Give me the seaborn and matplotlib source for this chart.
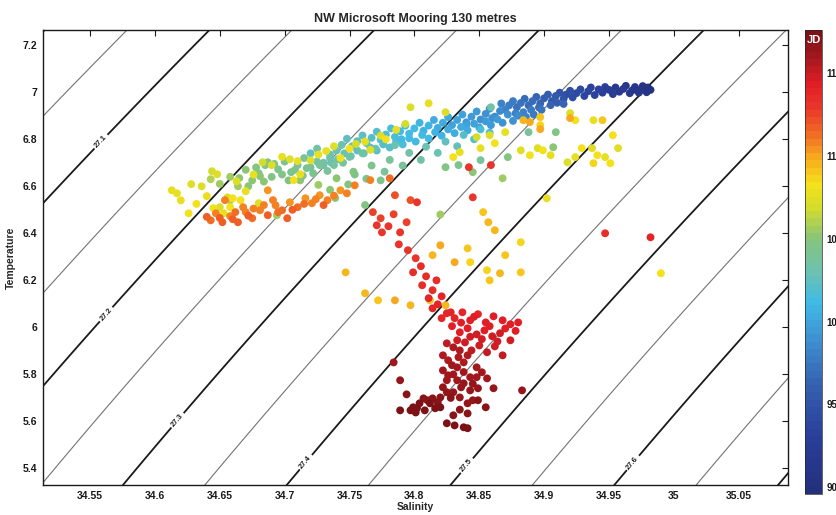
import numpy as np
import pandas as pd
import seaborn as sns
import matplotlib
matplotlib.use('Agg')
import matplotlib.pyplot as plt
from matplotlib.colors import LinearSegmentedColormap, Normalize
from matplotlib.cm import ScalarMappable

# (salinity, temperature, julian day), grouped by water type
tip_pts = [
    (34.982, 7.010, 90.1), (34.980, 7.020, 90.3), (34.979, 7.000, 90.5), (34.976, 7.026, 90.7),
    (34.975, 7.012, 90.8), (34.973, 6.998, 91.0), (34.970, 7.022, 91.2), (34.968, 7.008, 91.3),
    (34.966, 6.996, 91.5), (34.963, 7.027, 91.6), (34.961, 7.014, 91.8), (34.958, 7.002, 92.0),
    (34.955, 7.020, 92.2), (34.953, 6.992, 92.3), (34.950, 7.010, 92.5), (34.947, 7.022, 92.7),
    (34.945, 6.998, 92.9), (34.942, 7.012, 93.1), (34.939, 6.988, 93.3), (34.936, 7.020, 93.4),
    (34.934, 7.004, 93.6), (34.931, 6.984, 93.8), (34.928, 7.012, 94.0), (34.925, 6.996, 94.2),
    (34.922, 6.978, 94.4), (34.920, 7.006, 94.5), (34.917, 6.990, 94.7),
]
blue_pts = [
    (34.915, 6.972, 95.0), (34.912, 6.998, 95.2), (34.909, 6.984, 95.4), (34.906, 6.962, 95.6),
    (34.903, 6.990, 95.8), (34.900, 6.974, 96.0), (34.897, 6.952, 96.2), (34.894, 6.980, 96.4),
    (34.891, 6.962, 96.6), (34.888, 6.944, 96.8), (34.885, 6.972, 97.0), (34.882, 6.954, 97.2),
    (34.879, 6.936, 97.4), (34.876, 6.962, 97.6), (34.873, 6.944, 97.8), (34.870, 6.926, 98.0),
    (34.867, 6.952, 98.2), (34.896, 6.935, 97.0), (34.890, 6.925, 97.5), (34.884, 6.915, 98.0),
    (34.878, 6.910, 98.3), (34.905, 6.945, 96.5), (34.898, 6.925, 97.2), (34.892, 6.905, 97.8),
    (34.886, 6.895, 98.2), (34.910, 6.955, 96.0), (34.915, 6.950, 96.3),
]
cyan_pts = [
    (34.866, 6.920, 98.5), (34.862, 6.896, 98.7), (34.858, 6.930, 98.8), (34.855, 6.908, 99.0),
    (34.851, 6.884, 99.1), (34.848, 6.918, 99.3), (34.844, 6.896, 99.4), (34.840, 6.872, 99.6),
    (34.837, 6.905, 99.7), (34.833, 6.882, 99.9), (34.829, 6.860, 100.0), (34.826, 6.894, 100.1),
    (34.822, 6.870, 100.3), (34.818, 6.848, 100.4), (34.815, 6.882, 100.5), (34.811, 6.858, 100.7),
    (34.807, 6.836, 100.8), (34.804, 6.870, 100.9), (34.800, 6.846, 101.0), (34.796, 6.824, 101.2),
    (34.793, 6.858, 101.3), (34.789, 6.834, 101.4), (34.785, 6.810, 101.5), (34.782, 6.846, 101.6),
    (34.778, 6.820, 101.8), (34.774, 6.798, 101.9), (34.771, 6.832, 102.0), (34.767, 6.806, 102.1),
    (34.763, 6.784, 102.3), (34.760, 6.816, 102.4), (34.756, 6.792, 102.5), (34.752, 6.770, 102.6),
    (34.748, 6.802, 102.7), (34.744, 6.776, 102.8), (34.740, 6.752, 102.9), (34.720, 6.740, 102.5),
    (34.735, 6.720, 103.0), (34.790, 6.800, 101.0), (34.840, 6.860, 100.0), (34.860, 6.890, 99.0),
    (34.880, 6.900, 98.6), (34.876, 6.878, 98.9), (34.872, 6.905, 99.0), (34.868, 6.870, 99.2),
    (34.864, 6.885, 99.3), (34.859, 6.860, 99.5), (34.855, 6.876, 99.6), (34.850, 6.850, 99.8),
    (34.846, 6.866, 99.9), (34.841, 6.838, 100.1), (34.836, 6.852, 100.2), (34.831, 6.826, 100.4),
    (34.826, 6.842, 100.5), (34.821, 6.815, 100.7), (34.816, 6.830, 100.8), (34.811, 6.803, 101.0),
    (34.806, 6.818, 101.1), (34.801, 6.790, 101.3), (34.796, 6.804, 101.4), (34.791, 6.778, 101.6),
    (34.786, 6.792, 101.7), (34.781, 6.765, 101.9), (34.776, 6.778, 102.0), (34.771, 6.752, 102.2),
    (34.766, 6.765, 102.3), (34.761, 6.740, 102.5), (34.756, 6.752, 102.6), (34.751, 6.728, 102.8),
    (34.746, 6.740, 102.9), (34.741, 6.715, 103.0), (34.736, 6.700, 103.1), (34.730, 6.690, 103.2),
    (34.725, 6.705, 103.3), (34.858, 6.828, 101.5), (34.851, 6.842, 101.8), (34.846, 6.800, 102.0),
    (34.838, 6.818, 102.2), (34.833, 6.770, 102.4), (34.824, 6.790, 102.6), (34.818, 6.742, 102.8),
    (34.809, 6.768, 103.0), (34.805, 6.712, 103.2), (34.796, 6.742, 103.4), (34.791, 6.688, 103.6),
    (34.781, 6.712, 103.8), (34.777, 6.662, 104.0), (34.767, 6.688, 104.2), (34.763, 6.632, 104.4),
    (34.753, 6.662, 104.6), (34.749, 6.608, 104.8), (34.740, 6.634, 105.0), (34.735, 6.585, 105.2),
    (34.726, 6.606, 105.4),
]
green_pts = [
    (34.735, 6.735, 103.2), (34.730, 6.700, 103.4), (34.725, 6.760, 103.5), (34.720, 6.680, 103.7),
    (34.715, 6.720, 103.8), (34.710, 6.690, 104.0), (34.705, 6.660, 104.1), (34.700, 6.705, 104.3),
    (34.695, 6.672, 104.4), (34.690, 6.640, 104.6), (34.685, 6.690, 104.7), (34.680, 6.655, 104.9),
    (34.675, 6.625, 105.0), (34.670, 6.670, 105.2), (34.664, 6.600, 105.4), (34.658, 6.640, 105.5),
    (34.650, 6.610, 105.7), (34.770, 6.760, 103.1), (34.760, 6.740, 103.3), (34.750, 6.725, 103.5),
    (34.785, 6.775, 103.0), (34.687, 6.702, 104.5), (34.681, 6.643, 105.0), (34.694, 6.477, 105.5),
    (34.717, 6.677, 104.2), (34.824, 6.681, 104.8), (34.834, 6.690, 104.4), (34.845, 6.660, 105.2),
    (34.851, 6.711, 104.0), (34.868, 6.634, 105.6), (34.872, 6.724, 104.6), (34.888, 6.830, 103.6),
    (34.909, 6.830, 104.9), (34.907, 6.766, 105.3), (34.859, 6.936, 103.4), (34.658, 6.540, 105.8),
    (34.739, 6.550, 105.1), (34.762, 6.520, 104.7), (34.820, 6.480, 105.4), (34.754, 6.650, 104.3),
    (34.712, 6.625, 105.0), (34.643, 6.630, 105.9), (34.774, 6.625, 104.1), (34.665, 6.635, 105.1),
    (34.672, 6.600, 105.3), (34.678, 6.680, 104.8), (34.684, 6.620, 105.0), (34.692, 6.695, 104.5),
    (34.698, 6.650, 104.7), (34.703, 6.625, 104.9), (34.708, 6.670, 104.4), (34.714, 6.645, 104.6),
    (34.722, 6.655, 104.2), (34.727, 6.690, 104.0), (34.733, 6.665, 103.9), (34.738, 6.690, 103.8),
    (34.745, 6.700, 103.6),
]
yellow_pts = [
    (34.613, 6.583, 107.6), (34.617, 6.570, 107.8), (34.628, 6.609, 107.2), (34.644, 6.664, 107.0),
    (34.648, 6.651, 107.4), (34.663, 6.621, 107.3), (34.670, 6.579, 107.9), (34.626, 6.485, 108.0),
    (34.640, 6.558, 107.7), (34.645, 6.507, 108.2), (34.650, 6.511, 107.5), (34.658, 6.511, 108.4),
    (34.653, 6.485, 107.9), (34.656, 6.553, 107.1), (34.660, 6.549, 108.1), (34.683, 6.702, 106.9),
    (34.704, 6.715, 107.2), (34.710, 6.707, 107.6), (34.712, 6.651, 107.8), (34.666, 6.541, 108.3),
    (34.680, 6.528, 107.4), (34.707, 6.626, 108.0), (34.824, 6.915, 107.5), (34.870, 6.830, 107.8),
    (34.897, 6.860, 108.6), (34.920, 6.911, 107.3), (34.924, 6.881, 108.2), (34.938, 6.881, 107.7),
    (34.945, 6.881, 108.9), (34.882, 6.753, 107.4), (34.889, 6.732, 108.0), (34.895, 6.762, 107.2),
    (34.899, 6.753, 108.4), (34.905, 6.732, 107.6), (34.848, 6.809, 106.8), (34.851, 6.762, 107.9),
    (34.858, 6.817, 107.1), (34.862, 6.783, 108.3), (34.835, 6.745, 107.6), (34.830, 6.724, 108.1),
    (34.918, 6.702, 107.5), (34.924, 6.724, 107.9), (34.929, 6.762, 108.2), (34.937, 6.762, 107.3),
    (34.941, 6.732, 108.0), (34.947, 6.724, 107.7), (34.938, 6.698, 108.5), (34.957, 6.762, 107.4),
    (34.953, 6.817, 108.1), (34.897, 6.894, 109.2), (34.884, 6.881, 109.4), (34.951, 6.698, 108.3),
    (34.902, 6.549, 107.9), (34.990, 6.230, 108.0), (34.797, 6.936, 107.1), (34.811, 6.953, 107.6),
    (34.720, 6.710, 107.3), (34.732, 6.750, 107.8), (34.743, 6.720, 108.2), (34.755, 6.780, 107.0),
    (34.766, 6.755, 107.5), (34.778, 6.800, 108.4), (34.786, 6.840, 107.7), (34.793, 6.865, 106.9),
    (34.690, 6.690, 107.5), (34.698, 6.725, 107.9), (34.726, 6.735, 107.6), (34.738, 6.770, 107.3),
    (34.750, 6.760, 108.0), (34.762, 6.790, 107.8), (34.774, 6.815, 107.4), (34.676, 6.650, 107.7),
    (34.636, 6.600, 107.5), (34.620, 6.540, 107.9), (34.632, 6.525, 108.3),
]
gold_pts = [
    (34.747, 6.234, 109.3), (34.762, 6.145, 109.6), (34.772, 6.115, 109.1), (34.785, 6.115, 109.8),
    (34.797, 6.094, 109.4), (34.812, 6.115, 109.0), (34.824, 6.094, 109.7), (34.858, 6.200, 109.2),
    (34.866, 6.230, 109.5), (34.856, 6.243, 108.8), (34.870, 6.307, 109.0), (34.882, 6.362, 108.6),
    (34.862, 6.413, 109.3), (34.853, 6.490, 108.9), (34.857, 6.447, 109.6), (34.841, 6.336, 109.1),
    (34.831, 6.277, 109.8), (34.843, 6.277, 108.7), (34.814, 6.307, 109.4), (34.820, 6.349, 109.9),
    (34.882, 6.234, 109.2),
]
orange_pts = [
    (34.643, 6.455, 111.4), (34.647, 6.485, 111.0), (34.652, 6.447, 111.6), (34.658, 6.473, 110.8),
    (34.664, 6.447, 111.8), (34.670, 6.490, 110.6), (34.675, 6.464, 111.3), (34.681, 6.498, 110.9),
    (34.687, 6.477, 111.5), (34.693, 6.519, 110.7), (34.698, 6.498, 111.2), (34.704, 6.532, 110.5),
    (34.710, 6.511, 111.1), (34.716, 6.549, 110.4), (34.721, 6.528, 110.9), (34.727, 6.562, 110.3),
    (34.733, 6.541, 110.8), (34.687, 6.583, 110.5), (34.654, 6.541, 110.7), (34.668, 6.511, 111.0),
    (34.702, 6.464, 111.7), (34.691, 6.541, 110.6), (34.743, 6.583, 110.4), (34.754, 6.604, 110.6),
    (34.766, 6.626, 110.9), (34.781, 6.634, 111.2), (34.785, 6.562, 112.0), (34.797, 6.541, 112.2),
    (34.889, 6.873, 109.8), (34.897, 6.843, 110.0), (34.920, 6.890, 109.9), (34.662, 6.490, 111.2),
    (34.676, 6.505, 110.8), (34.684, 6.520, 111.0), (34.695, 6.490, 111.4), (34.706, 6.500, 111.6),
    (34.715, 6.525, 111.3), (34.724, 6.545, 110.9), (34.730, 6.520, 111.5), (34.738, 6.560, 110.7),
    (34.748, 6.570, 110.6), (34.660, 6.460, 111.7), (34.672, 6.475, 111.9), (34.640, 6.470, 111.8),
    (34.650, 6.465, 111.5),
]
red_pts = [
    (34.768, 6.490, 112.5), (34.774, 6.464, 112.6), (34.780, 6.430, 112.8), (34.784, 6.481, 112.6),
    (34.789, 6.404, 112.9), (34.794, 6.447, 112.7), (34.788, 6.353, 113.0), (34.795, 6.328, 113.1),
    (34.775, 6.404, 112.9), (34.771, 6.434, 112.8), (34.801, 6.294, 113.2), (34.805, 6.260, 113.3),
    (34.799, 6.234, 113.4), (34.809, 6.217, 113.4), (34.806, 6.179, 113.5), (34.814, 6.158, 113.6),
    (34.811, 6.124, 113.7), (34.818, 6.098, 113.8), (34.821, 6.132, 113.7), (34.817, 6.200, 113.5),
    (34.825, 6.060, 113.9), (34.831, 6.039, 114.0), (34.837, 6.064, 113.9), (34.843, 6.030, 114.1),
    (34.849, 6.056, 114.0), (34.855, 6.021, 114.2), (34.861, 6.047, 114.1), (34.868, 6.030, 114.2),
    (34.874, 6.013, 114.3), (34.880, 6.021, 114.2), (34.829, 6.005, 114.3), (34.835, 5.979, 114.5),
    (34.841, 5.996, 114.4), (34.848, 5.970, 114.6), (34.854, 5.987, 114.5), (34.860, 5.962, 114.7),
    (34.866, 5.975, 114.6), (34.874, 5.945, 114.8), (34.862, 5.919, 114.9), (34.868, 5.881, 115.0),
    (34.856, 5.894, 115.0), (34.839, 5.936, 114.8), (34.850, 5.923, 114.9), (34.844, 5.902, 115.1),
    (34.833, 5.945, 114.7), (34.828, 6.064, 113.9), (34.821, 6.039, 114.0), (34.814, 6.081, 113.8),
    (34.947, 6.400, 113.6), (34.982, 6.383, 114.0), (34.842, 6.681, 112.8), (34.859, 6.690, 113.0),
    (34.845, 6.553, 113.2), (34.802, 6.532, 112.9), (34.836, 6.020, 114.3), (34.846, 6.045, 114.1),
    (34.858, 6.005, 114.4), (34.870, 5.995, 114.5), (34.852, 5.950, 114.8), (34.864, 5.940, 114.9),
    (34.843, 5.960, 114.7), (34.878, 5.985, 114.5),
]
darkred_pts = [
    (34.825, 5.932, 115.4), (34.830, 5.915, 115.5), (34.822, 5.881, 115.6), (34.833, 5.830, 115.9),
    (34.822, 5.817, 116.0), (34.825, 5.775, 116.2), (34.833, 5.775, 116.1), (34.838, 5.762, 116.3),
    (34.843, 5.732, 116.4), (34.830, 5.724, 116.5), (34.845, 5.690, 116.6), (34.841, 5.677, 116.7),
    (34.825, 5.592, 117.2), (34.831, 5.583, 117.3), (34.838, 5.575, 117.4), (34.841, 5.571, 117.5),
    (34.830, 5.626, 117.0), (34.841, 5.634, 117.1), (34.849, 5.690, 116.8), (34.855, 5.660, 116.9),
    (34.849, 5.741, 116.5), (34.861, 5.741, 116.4), (34.856, 5.783, 116.2), (34.848, 5.788, 116.1),
    (34.835, 5.702, 116.7), (34.814, 5.698, 117.0), (34.810, 5.690, 117.1), (34.804, 5.677, 117.2),
    (34.799, 5.660, 117.3), (34.797, 5.647, 117.4), (34.802, 5.656, 117.3), (34.812, 5.677, 117.2),
    (34.818, 5.681, 117.1), (34.789, 5.647, 117.4), (34.794, 5.715, 117.0), (34.789, 5.775, 116.6),
    (34.784, 5.851, 116.0), (34.822, 5.745, 116.6), (34.826, 5.796, 116.2), (34.829, 5.839, 115.9),
    (34.834, 5.873, 115.7), (34.838, 5.851, 115.8), (34.841, 5.881, 115.6), (34.835, 5.902, 115.5),
    (34.848, 5.830, 115.9), (34.852, 5.809, 116.0), (34.843, 5.788, 116.2), (34.883, 5.732, 116.3),
    (34.807, 5.698, 117.0), (34.801, 5.638, 117.4), (34.808, 5.647, 117.3), (34.816, 5.656, 117.2),
    (34.820, 5.702, 116.9), (34.825, 5.724, 116.7), (34.830, 5.800, 116.1), (34.838, 5.810, 116.0),
    (34.836, 5.745, 116.4), (34.828, 5.700, 116.8), (34.820, 5.660, 117.2), (34.835, 5.650, 117.0),
    (34.826, 5.860, 115.8), (34.845, 5.760, 116.3),
]

x_ticks = [34.55, 34.6, 34.65, 34.7, 34.75, 34.8, 34.85, 34.9, 34.95, 35, 35.05]
x_labels = ['34.55', '34.6', '34.65', '34.7', '34.75', '34.8', '34.85', '34.9', '34.95', '35', '35.05']
y_ticks = [5.4, 5.6, 5.8, 6, 6.2, 6.4, 6.6, 6.8, 7, 7.2]
y_labels = ['5.4', '5.6', '5.8', '6', '6.2', '6.4', '6.6', '6.8', '7', '7.2']
jd_ticks = [90, 95, 100, 105, 110, 115]
plain_levels = [27.0, 27.7, 27.8]
label_levels = [27.1, 27.2, 27.3, 27.4, 27.5, 27.6]
thin_levels = [26.95, 27.05, 27.15, 27.25, 27.35, 27.45, 27.55, 27.65, 27.75]
label_spots = [(34.559, 6.787), (34.5615, 6.060), (34.604, 5.668),
               (34.710, 5.456), (34.831, 5.456), (34.957, 5.477)]


def sigma0(s, t):
    # UNESCO 1983 density at the surface, minus 1000
    rw = (999.842594 + 6.793952e-2 * t - 9.095290e-3 * t**2 + 1.001685e-4 * t**3
          - 1.120083e-6 * t**4 + 6.536332e-9 * t**5)
    a = 0.824493 - 4.0899e-3 * t + 7.6438e-5 * t**2 - 8.2467e-7 * t**3 + 5.3875e-9 * t**4
    b = -5.72466e-3 + 1.0227e-4 * t - 1.6546e-6 * t**2
    return rw + a * s + b * s**1.5 + 4.8314e-4 * s**2 - 1000.0


sns.set_theme(style='white')
plt.rcParams['font.family'] = ['Liberation Sans', 'DejaVu Sans']
plt.rcParams['font.weight'] = 'bold'
plt.rcParams['axes.labelweight'] = 'bold'
plt.rcParams['axes.titleweight'] = 'bold'

cmap = LinearSegmentedColormap.from_list('jd', [
    (0.00, '#23307c'), (0.12, '#2a3f9a'), (0.23, '#3560b0'), (0.34, '#3f95d4'),
    (0.41, '#3fbbe6'), (0.48, '#6ec2b0'), (0.55, '#86c47c'), (0.62, '#d6dd2a'),
    (0.67, '#f5e11b'), (0.73, '#f7a81f'), (0.78, '#f06a24'), (0.84, '#e8352a'),
    (0.89, '#e11d25'), (0.94, '#a91a1f'), (1.00, '#7c1216')], N=64)
norm = Normalize(vmin=89.6, vmax=117.6)

df = pd.DataFrame(tip_pts + blue_pts + cyan_pts + green_pts + yellow_pts + gold_pts
                  + orange_pts + red_pts + darkred_pts,
                  columns=['Salinity', 'Temperature', 'JD']).sort_values('JD')

fig = plt.figure(figsize=(8.37, 5.15), dpi=100)
ax = fig.add_axes([0.051, 0.058, 0.8905, 0.8835])
ax.set_xlim(34.5135, 35.088)
ax.set_ylim(5.329, 7.264)

# isopycnals
sg, tg = np.meshgrid(np.linspace(34.45, 35.15, 240), np.linspace(5.2, 7.4, 240))
dens = sigma0(sg, tg)
ax.contour(sg, tg, dens, levels=thin_levels, colors='0.45', linewidths=0.8)
ax.contour(sg, tg, dens, levels=plain_levels, colors='k', linewidths=1.3)
cs = ax.contour(sg, tg, dens, levels=label_levels, colors='k', linewidths=1.3)
ax.clabel(cs, manual=label_spots, fmt='%.1f', fontsize=5.5, inline=True, inline_spacing=2)

sns.scatterplot(data=df, x='Salinity', y='Temperature', hue='JD', palette=cmap,
                hue_norm=norm, s=32, linewidth=0, legend=False, ax=ax, zorder=3)

ax.set_xticks(x_ticks)
ax.set_xticklabels(x_labels)
ax.set_yticks(y_ticks)
ax.set_yticklabels(y_labels)
ax.tick_params(direction='in', top=True, right=True, length=4, width=0.8,
               labelsize=7.5, pad=4, colors='k')
for sp in ax.spines.values():
    sp.set_color('k')
    sp.set_linewidth(1.0)
ax.set_xlabel('Salinity', fontsize=7.5, labelpad=1)
ax.set_ylabel('Temperature', fontsize=7.5, labelpad=5)
ax.set_title('NW Microsoft Mooring 130 metres', fontsize=9, pad=6)

cax = fig.add_axes([0.9618, 0.0408, 0.0203, 0.901])
cb = fig.colorbar(ScalarMappable(norm=norm, cmap=cmap), cax=cax, ticks=jd_ticks)
cb.outline.set_linewidth(0.5)
cax.tick_params(direction='in', length=3, labelsize=7, pad=3, colors='k')
cax.text(0.5, 0.99, 'JD', color='white', fontsize=8, ha='center', va='top',
         transform=cax.transAxes)

plt.savefig('out.png', dpi=100)
